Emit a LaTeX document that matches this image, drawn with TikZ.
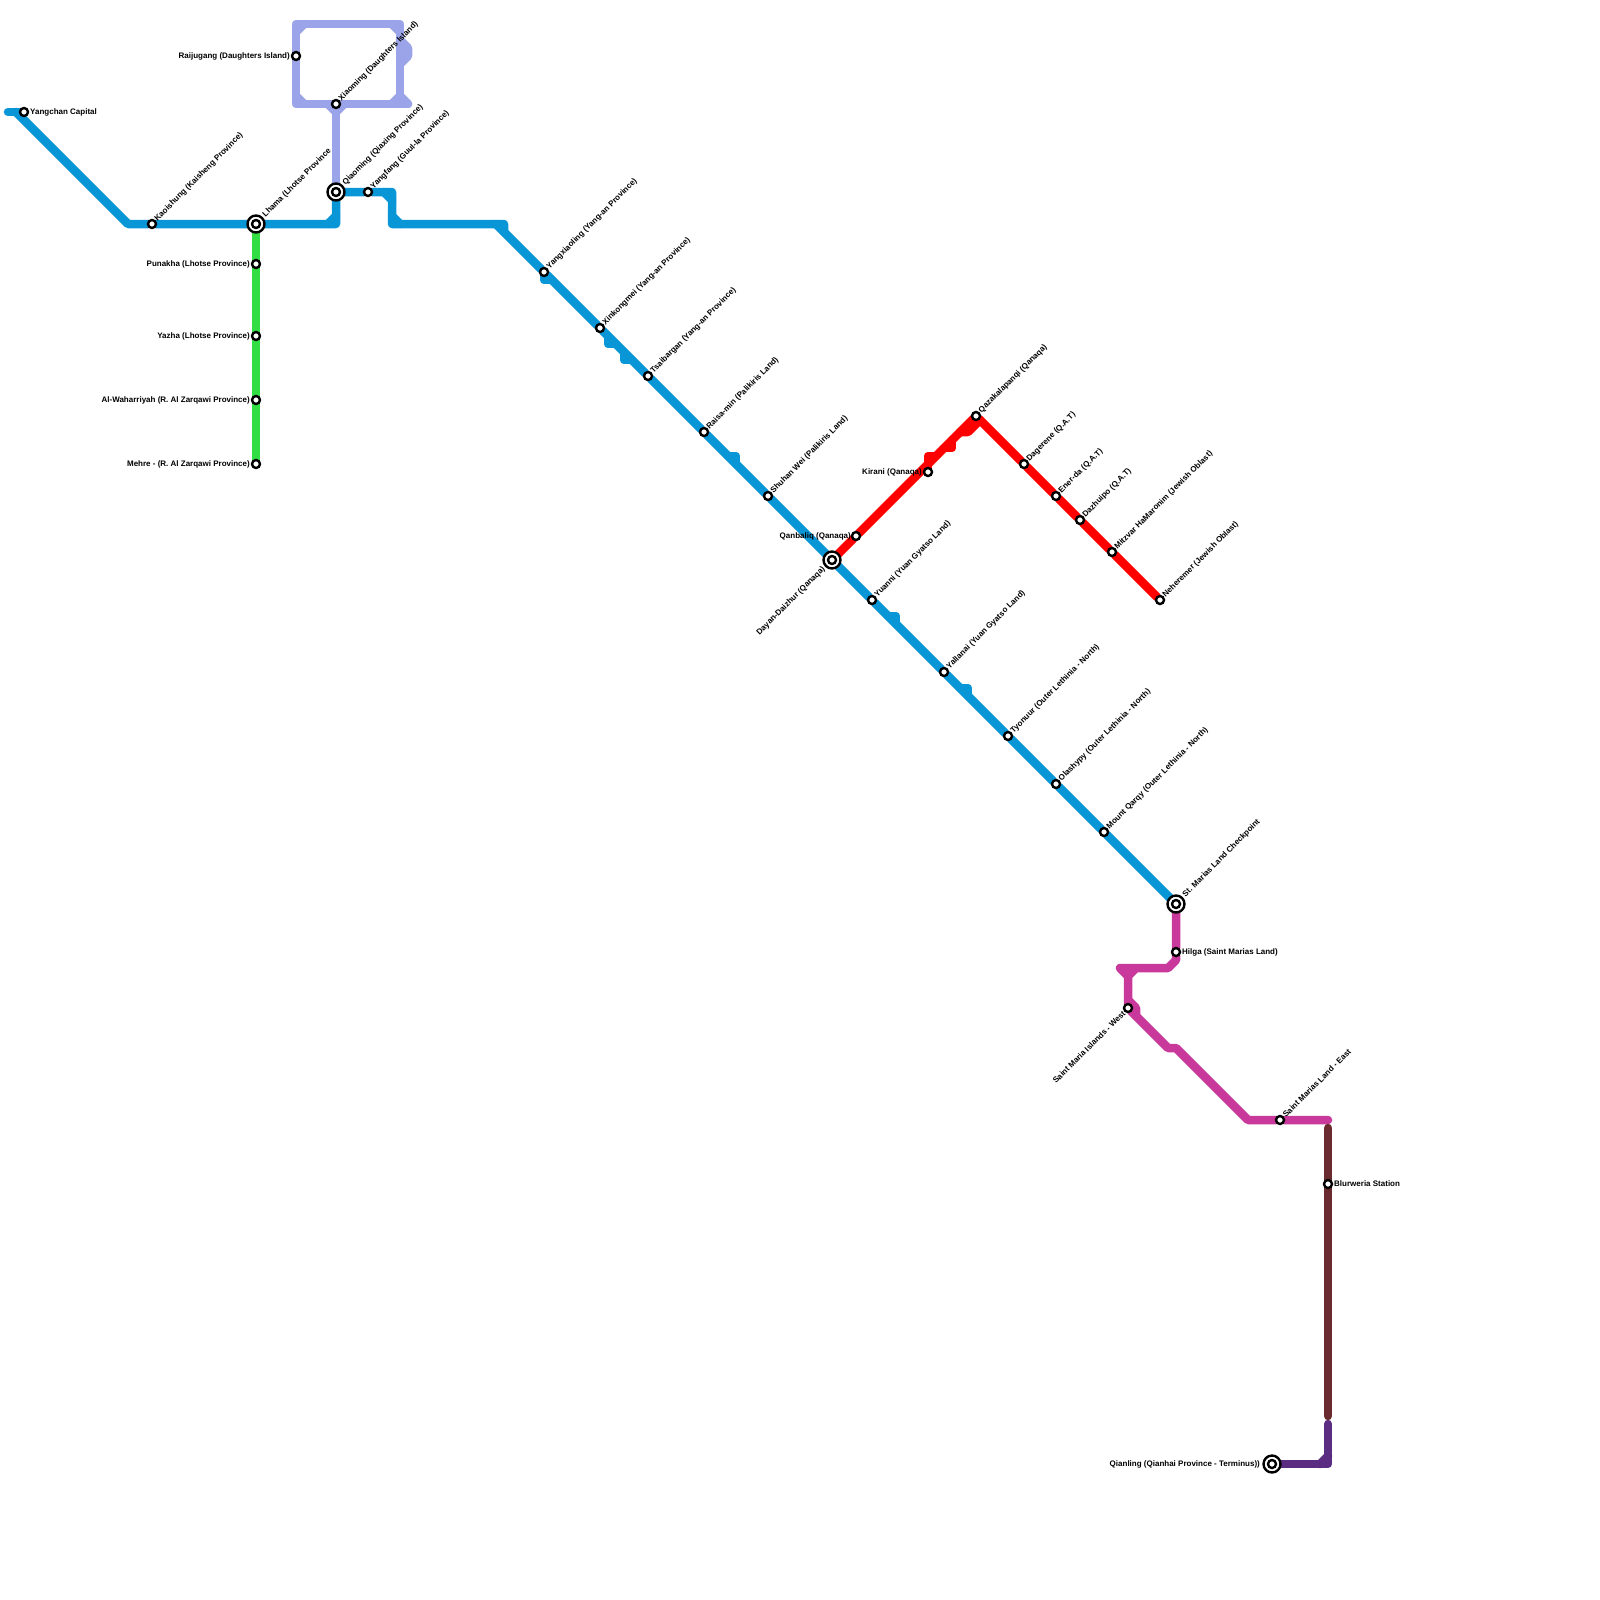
\documentclass[tikz,border=0pt]{standalone}
\usepackage{fontspec}
\setmainfont{Liberation Sans}
\usetikzlibrary{backgrounds}
\definecolor{bluelinecol}{HTML}{0896D7}
\definecolor{lavlinecol}{HTML}{9BA3E9}
\definecolor{greenlinecol}{HTML}{33DD44}
\definecolor{redlinecol}{HTML}{FF0000}
\definecolor{maglinecol}{HTML}{C8399B}
\definecolor{brownlinecol}{HTML}{6B2A2E}
\definecolor{purplelinecol}{HTML}{5A2D82}
\begin{document}
\begin{tikzpicture}[x=1pt,y=-1pt,
  every node/.style={font=\bfseries\fontsize{8}{9}\selectfont,inner sep=0pt},
  stn/.style={circle,draw=black,fill=white,line width=2.4pt,minimum size=8pt,outer sep=0pt},
  ichg/.style={circle,draw=black,fill=white,line width=2.4pt,minimum size=17pt,outer sep=0pt},
  lblne/.style={rotate=45,anchor=west},
  lblsw/.style={rotate=45,anchor=east},
  lblr/.style={anchor=west},
  lbll/.style={anchor=east},
  metro/.style={line width=8.5pt,line cap=round,line join=round}]
\useasboundingbox (0,0) rectangle (1600,1600);
% stations
\node[stn] (yangchan) at (24,112) {};
\node[stn] (kaoishung) at (152,224) {};
\node[ichg] (lhama) at (256,224) {};
\node[stn] (lhamain) at (lhama) {};
\node[stn] (punakha) at (256,264) {};
\node[stn] (yazha) at (256,336) {};
\node[stn] (waharriyah) at (256,400) {};
\node[stn] (mehre) at (256,464) {};
\node[stn] (raijugang) at (296,56) {};
\node[stn] (xiaoming) at (336,104) {};
\node[ichg] (qiaoming) at (336,192) {};
\node[stn] (qiaomingin) at (qiaoming) {};
\node[stn] (yangfang) at (368,192) {};
\node[stn] (yangxiaoling) at (544,272) {};
\node[stn] (xinkongmei) at (600,328) {};
\node[stn] (tsaibargan) at (648,376) {};
\node[stn] (raisamin) at (704,432) {};
\node[stn] (shuhan) at (768,496) {};
\node[ichg] (dayan) at (832,560) {};
\node[stn] (dayanin) at (dayan) {};
\node[stn] (qanbaliq) at (856,536) {};
\node[stn] (kirani) at (928,472) {};
\node[stn] (qazak) at (976,416) {};
\node[stn] (dagerene) at (1024,464) {};
\node[stn] (enerda) at (1056,496) {};
\node[stn] (dazhuipo) at (1080,520) {};
\node[stn] (mitzvar) at (1112,552) {};
\node[stn] (neheremer) at (1160,600) {};
\node[stn] (yuanni) at (872,600) {};
\node[stn] (yallanai) at (944,672) {};
\node[stn] (tyonuur) at (1008,736) {};
\node[stn] (olashypy) at (1056,784) {};
\node[stn] (qarqy) at (1104,832) {};
\node[ichg] (stmarias) at (1176,904) {};
\node[stn] (stmariasin) at (stmarias) {};
\node[stn] (hilga) at (1176,952) {};
\node[stn] (mariawest) at (1128,1008) {};
\node[stn] (mariaeast) at (1280,1120) {};
\node[stn] (blurweria) at (1328,1184) {};
\node[ichg] (qianling) at (1272,1464) {};
\node[stn] (qianlingin) at (qianling) {};
% labels
\node[lblr] (yangchanlbl) at (30,112) {Yangchan Capital};
\node[lblne] (kaoishunglbl) at (156,220) {Kaoishung (Kaisheng Province)};
\node[lblne] (lhamalbl) at (264,216) {Lhama (Lhotse Province};
\node[lbll] (punakhalbl) at (250,264) {Punakha (Lhotse Province)};
\node[lbll] (yazhalbl) at (250,336) {Yazha (Lhotse Province)};
\node[lbll] (waharriyahlbl) at (250,400) {Al-Waharriyah (R. Al Zarqawi Province)};
\node[lbll] (mehrelbl) at (250,464) {Mehre - (R. Al Zarqawi Province)};
\node[lbll] (raijuganglbl) at (290,56) {Raijugang (Daughters Island)};
\node[lblne] (xiaominglbl) at (340,100) {Xiaoming (Daughters Island)};
\node[lblne] (qiaominglbl) at (344,184) {Qiaoming (Qiaxing Province)};
\node[lblne] (yangfanglbl) at (372,188) {Yangfang (Guul-la Province)};
\node[lblne] (yangxiaolinglbl) at (548,268) {Yangxiaoling (Yang-an Province)};
\node[lblne] (xinkongmeilbl) at (604,324) {Xinkongmei (Yang-an Province)};
\node[lblne] (tsaibarganlbl) at (652,372) {Tsaibargan (Yang-an Province)};
\node[lblne] (raisaminlbl) at (708,428) {Raisa-min (Palikiris Land)};
\node[lblne] (shuhanlbl) at (772,492) {Shuhan Wei (Palikiris Land)};
\node[lblsw] (dayanlbl) at (824,568) {Dayan-Daizhur (Qanaqa)};
\node[lbll] (qanbaliqlbl) at (851,536) {Qanbaliq (Qanaqa)};
\node[lbll] (kiranilbl) at (922,472) {Kirani (Qanaqa)};
\node[lblne] (qazaklbl) at (980,412) {Qazakalapanqi (Qanaqa)};
\node[lblne] (dagerenelbl) at (1028,460) {Dagerene (Q.A.T)};
\node[lblne] (enerdalbl) at (1060,492) {Ener-da (Q.A.T)};
\node[lblne] (dazhuipolbl) at (1084,516) {Dazhuipo (Q.A.T)};
\node[lblne] (mitzvarlbl) at (1116,548) {Mitzvar HaMaronim (Jewish Oblast)};
\node[lblne] (neheremerlbl) at (1164,596) {Neheremer (Jewish Oblast)};
\node[lblne] (yuannilbl) at (876,596) {Yuanni (Yuan Gyatso Land)};
\node[lblne] (yallanailbl) at (948,668) {Yallanai (Yuan Gyatso Land)};
\node[lblne] (tyonuurlbl) at (1012,732) {Tyonuur (Outer Lethinia - North)};
\node[lblne] (olashypylbl) at (1060,780) {Olashypy (Outer Lethinia - North)};
\node[lblne] (qarqylbl) at (1108,828) {Mount Qarqy (Outer Lethinia - North)};
\node[lblne] (stmariaslbl) at (1184,896) {St. Marias Land Checkpoint};
\node[lblr] (hilgalbl) at (1182,952) {Hilga (Saint Marias Land)};
\node[lblsw] (mariawestlbl) at (1124,1012) {Saint Maria Islands - West};
\node[lblne] (mariaeastlbl) at (1284,1116) {Saint Marias Land - East};
\node[lblr] (blurwerialbl) at (1334,1184) {Blurweria Station};
\node[lbll] (qianlinglbl) at (1260,1464) {Qianling (Qianhai Province - Terminus))};
% bends
\coordinate (bluestart) at (8,112);
\coordinate (blueb0) at (16,112);
\coordinate (blueb1) at (128,224);
\coordinate (blueb2) at (336,224);
\coordinate (blueb3) at (392,192);
\coordinate (blueb4) at (392,224);
\coordinate (blueb5) at (504,224);
\coordinate (blueb6) at (504,232);
\coordinate (blueb7) at (496,224);
\coordinate (bluef1) at (328,224);
\coordinate (bluef2) at (336,216);
\coordinate (bluef3) at (384,192);
\coordinate (bluef4) at (392,200);
\coordinate (bluef5) at (392,216);
\coordinate (bluef6) at (400,224);
\coordinate (bumpa1) at (544,280);
\coordinate (bumpa2) at (552,280);
\coordinate (bumpb0) at (608,336);
\coordinate (bumpb1) at (608,344);
\coordinate (bumpb2) at (616,344);
\coordinate (bumpc0) at (624,352);
\coordinate (bumpc1) at (624,360);
\coordinate (bumpc2) at (632,360);
\coordinate (bumpd0) at (728,456);
\coordinate (bumpd1) at (736,456);
\coordinate (bumpd2) at (736,464);
\coordinate (bumpe0) at (888,616);
\coordinate (bumpe1) at (896,616);
\coordinate (bumpe2) at (896,624);
\coordinate (bumpf0) at (960,688);
\coordinate (bumpf1) at (968,688);
\coordinate (bumpf2) at (968,696);
\coordinate (lavtl) at (296,24);
\coordinate (lavtr) at (400,24);
\coordinate (lavbr) at (400,104);
\coordinate (lavbl) at (296,104);
\coordinate (lavend) at (408,104);
\coordinate (lavk1) at (400,40);
\coordinate (lavk2) at (408,48);
\coordinate (lavk3) at (408,56);
\coordinate (lavk4) at (400,64);
\coordinate (lavf1) at (296,32);
\coordinate (lavf2) at (304,24);
\coordinate (lavf3) at (392,24);
\coordinate (lavf4) at (400,32);
\coordinate (lavf5) at (296,96);
\coordinate (lavf6) at (304,104);
\coordinate (lavf7) at (392,104);
\coordinate (lavf8) at (400,96);
\coordinate (lavv1) at (328,104);
\coordinate (lavv2) at (336,112);
\coordinate (lavv3) at (344,104);
\coordinate (redr1) at (928,456);
\coordinate (redr2) at (936,456);
\coordinate (redr3) at (944,448);
\coordinate (redr4) at (952,448);
\coordinate (redr5) at (952,440);
\coordinate (redr6) at (960,432);
\coordinate (redr7) at (968,432);
\coordinate (redr8) at (980,420);
\coordinate (magb1) at (1176,960);
\coordinate (magb2) at (1168,968);
\coordinate (magb3) at (1120,968);
\coordinate (magb4) at (1128,976);
\coordinate (magb5) at (1136,968);
\coordinate (magb6) at (1128,1000);
\coordinate (magb7) at (1136,1008);
\coordinate (magb8) at (1136,1016);
\coordinate (magb9) at (1168,1048);
\coordinate (magb10) at (1176,1048);
\coordinate (magb11) at (1248,1120);
\coordinate (magb12) at (1328,1120);
\coordinate (brownb1) at (1328,1128);
\coordinate (brownb2) at (1328,1416);
\coordinate (purpb1) at (1328,1424);
\coordinate (purpb2) at (1328,1464);
\coordinate (purpf1) at (1320,1464);
\coordinate (purpf2) at (1328,1456);
% lines
\begin{scope}[on background layer]
\draw[metro,bluelinecol] (bluestart) -- (yangchan);
\draw[metro,bluelinecol] (blueb0) -- (blueb1) -- (kaoishung) -- (lhama) -- (blueb2) -- (qiaoming) -- (yangfang) -- (blueb3) -- (blueb4) -- (blueb5) -- (blueb6);
\draw[metro,bluelinecol] (blueb7) -- (yangxiaoling) -- (xinkongmei) -- (tsaibargan) -- (raisamin) -- (shuhan) -- (dayan) -- (yuanni) -- (yallanai) -- (tyonuur) -- (olashypy) -- (qarqy) -- (stmarias);
\draw[metro,bluelinecol] (bluef1) -- (bluef2);
\draw[metro,bluelinecol] (bluef3) -- (bluef4);
\draw[metro,bluelinecol] (bluef5) -- (bluef6);
\draw[metro,bluelinecol] (yangxiaoling) -- (bumpa1) -- (bumpa2);
\draw[metro,bluelinecol] (bumpb0) -- (bumpb1) -- (bumpb2);
\draw[metro,bluelinecol] (bumpc0) -- (bumpc1) -- (bumpc2);
\draw[metro,bluelinecol] (bumpd0) -- (bumpd1) -- (bumpd2);
\draw[metro,bluelinecol] (bumpe0) -- (bumpe1) -- (bumpe2);
\draw[metro,bluelinecol] (bumpf0) -- (bumpf1) -- (bumpf2);
\draw[metro,greenlinecol] (lhama) -- (punakha) -- (yazha) -- (waharriyah) -- (mehre);
\draw[metro,lavlinecol] (lavtl) -- (lavtr) -- (lavbr) -- (lavbl) -- cycle;
\draw[metro,lavlinecol] (lavbr) -- (lavend);
\draw[metro,lavlinecol] (lavf8) -- (lavend);
\draw[metro,lavlinecol] (lavk1) -- (lavk2) -- (lavk3) -- (lavk4);
\draw[metro,lavlinecol] (lavf1) -- (lavf2);
\draw[metro,lavlinecol] (lavf3) -- (lavf4);
\draw[metro,lavlinecol] (lavf5) -- (lavf6);
\draw[metro,lavlinecol] (lavf7) -- (lavf8);
\draw[metro,lavlinecol] (lavv1) -- (lavv2) -- (lavv3);
\draw[metro,lavlinecol] (xiaoming) -- (qiaoming);
\draw[metro,redlinecol] (dayan) -- (qanbaliq) -- (qazak) -- (dagerene) -- (enerda) -- (dazhuipo) -- (mitzvar) -- (neheremer);
\draw[metro,redlinecol] (kirani) -- (redr1) -- (redr2);
\draw[metro,redlinecol] (redr3) -- (redr4) -- (redr5);
\draw[metro,redlinecol] (redr6) -- (redr7) -- (redr8);
\draw[metro,maglinecol] (stmarias) -- (hilga) -- (magb1) -- (magb2) -- (magb3) -- (magb4) -- (magb5);
\draw[metro,maglinecol] (magb4) -- (mariawest) -- (magb9) -- (magb10) -- (magb11) -- (mariaeast) -- (magb12);
\draw[metro,maglinecol] (magb6) -- (magb7) -- (magb8);
\draw[metro,brownlinecol] (brownb1) -- (blurweria) -- (brownb2);
\draw[metro,purplelinecol] (purpb1) -- (purpb2) -- (qianling);
\draw[metro,purplelinecol] (purpf1) -- (purpf2);
\end{scope}
\end{tikzpicture}
\end{document}
